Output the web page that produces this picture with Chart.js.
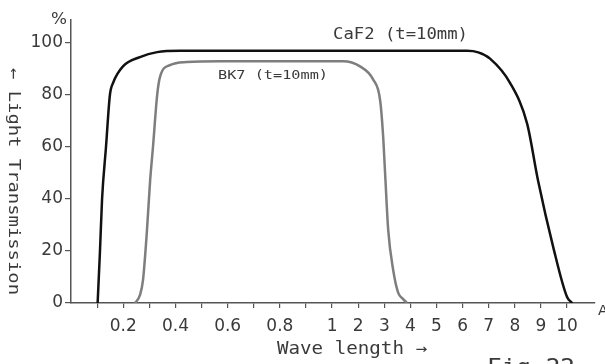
<!DOCTYPE html>
<html>
<head>
<meta charset="utf-8">
<script src="https://cdn.jsdelivr.net/npm/chart.js@4/dist/chart.umd.min.js"></script>
<style>
  html, body { margin: 0; padding: 0; background: #fff; }
  #wrap { width: 605px; height: 364px; }
</style>
</head>
<body>
<div id="wrap"><canvas id="myChart" width="605" height="364"></canvas></div>
<script>
// wavelength ticks (um) and their printed labels
const xTickValues = [0.1, 0.2, 0.3, 0.4, 0.5, 0.6, 0.7, 0.8, 0.9, 1, 2, 3, 4, 5, 6, 7, 8, 9, 10];
const xTickLabels = ["", "0.2", "", "0.4", "", "0.6", "", "0.8", "", "1", "2", "3", "4", "5", "6", "7", "8", "9", "10"];
const yTickValues = [0, 20, 40, 60, 80, 100];

// CaF2 (t=10mm)
const caf2Wave  = [0.102, 0.111, 0.119, 0.134, 0.149, 0.161, 0.199, 0.264, 0.33, 0.418, 1, 3, 6.17, 6.6, 7.05, 7.82, 8.47, 8.89, 9.47, 10.0, 10.2];
const caf2Trans = [0, 20, 40, 60, 80, 84.6, 91, 94.6, 96.5, 97, 97, 97, 97, 96.4, 94, 84.6, 69, 47, 21.5, 2.3, 0];

// BK7 (t=10mm)
const bk7Wave  = [0.245, 0.264, 0.276, 0.291, 0.303, 0.314, 0.33, 0.341, 0.379, 0.444, 0.571, 1, 1.42, 2.07, 2.57, 2.84, 2.95, 3.03, 3.15, 3.34, 3.53, 3.72, 3.87];
const bk7Trans = [0, 3, 9, 28, 47, 60, 80, 87, 91.5, 92.7, 93, 93, 93, 91, 86, 78, 65, 50, 28, 12.7, 4, 1.5, 0];

// the printed axis is linear in steps of 0.1 up to 1, then in steps of 1 up to 10
function toAxis(w) {
  return w <= 1 ? w * 10 : w + 9;
}

function toPoints(xs, ys) {
  return xs.map((x, i) => ({ x: toAxis(x), y: ys[i] }));
}

const inkColor = "#3a3a3a";
const axisColor = "#555";

// draws a text stretched to a given length, optionally rotated
function drawFit(ctx, text, x, y, len, font, rot) {
  ctx.save();
  ctx.font = font;
  ctx.fillStyle = inkColor;
  ctx.textBaseline = "middle";
  ctx.textAlign = "left";
  ctx.translate(x, y);
  if (rot) ctx.rotate(rot);
  const w = ctx.measureText(text).width;
  ctx.scale(len / w, 1);
  ctx.fillText(text, 0, 0);
  ctx.restore();
}

const textPlugin = {
  id: "texts",
  afterDraw(chart) {
    const ctx = chart.ctx;
    drawFit(ctx, "CaF2 (t=10mm)", 333, 35, 135, "15px 'DejaVu Sans Mono'");
    drawFit(ctx, "BK7 (t=10mm)", 218, 76, 110, "13px 'DejaVu Sans Mono'");
    drawFit(ctx, "%", 51, 20, 16, "15px 'DejaVu Sans'");
    drawFit(ctx, "\u2190 Light Transmission", 13, 68, 227, "16px 'DejaVu Sans Mono'", Math.PI / 2);
    drawFit(ctx, "Wave length \u2192", 277, 350, 150, "17px 'DejaVu Sans Mono'");
    drawFit(ctx, "Fig.22", 487, 368, 88, "22px 'DejaVu Sans Mono'");
    drawFit(ctx, "A", 598, 311, 10, "14px 'DejaVu Sans'");
  }
};

const ctx = document.getElementById("myChart").getContext("2d");
new Chart(ctx, {
  type: "line",
  data: {
    datasets: [
      {
        label: "CaF2 (t=10mm)",
        data: toPoints(caf2Wave, caf2Trans),
        borderColor: "#111",
        borderWidth: 2.5,
        pointRadius: 0,
        cubicInterpolationMode: "monotone",
        fill: false
      },
      {
        label: "BK7 (t=10mm)",
        data: toPoints(bk7Wave, bk7Trans),
        borderColor: "#7e7e7e",
        borderWidth: 2.5,
        pointRadius: 0,
        cubicInterpolationMode: "monotone",
        fill: false
      }
    ]
  },
  options: {
    responsive: false,
    animation: false,
    layout: { padding: { top: 20, right: 10, left: 0, bottom: 0 } },
    plugins: {
      legend: { display: false },
      tooltip: { enabled: false }
    },
    scales: {
      x: {
        type: "linear",
        min: 0,
        max: 20.07,
        afterFit: (scale) => { scale.height = 61; },
        afterBuildTicks: (scale) => {
          scale.ticks = xTickValues.map(v => ({ value: toAxis(v) }));
        },
        ticks: {
          autoSkip: false,
          maxRotation: 0,
          padding: 8,
          color: inkColor,
          font: { family: "'DejaVu Sans'", size: 17 },
          callback: (value, index) => xTickLabels[index]
        },
        grid: { drawOnChartArea: false, drawTicks: true, tickLength: 5, color: axisColor, lineWidth: 1.2 },
        border: { display: true, color: axisColor, width: 1.5 }
      },
      y: {
        type: "linear",
        min: 0,
        max: 108.85,
        afterFit: (scale) => { scale.width = 71; },
        afterBuildTicks: (scale) => {
          scale.ticks = yTickValues.map(v => ({ value: v }));
        },
        ticks: {
          padding: 2,
          color: inkColor,
          font: { family: "'DejaVu Sans'", size: 17 }
        },
        grid: { drawOnChartArea: false, drawTicks: true, tickLength: 6, color: axisColor, lineWidth: 1.2 },
        border: { display: true, color: axisColor, width: 1.5 }
      }
    }
  },
  plugins: [textPlugin]
});
</script>
</body>
</html>
